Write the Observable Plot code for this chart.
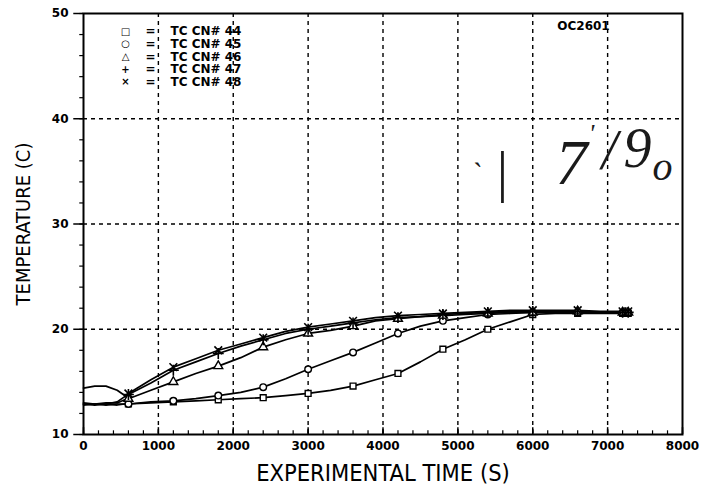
<!DOCTYPE html>
<html>
<head>
<meta charset="utf-8">
<script src="https://cdn.jsdelivr.net/npm/d3@7"></script>
<script src="https://cdn.jsdelivr.net/npm/@observablehq/plot@0.6"></script>
<style>
  html, body { margin: 0; padding: 0; background: #fff; }
  #chart { width: 708px; height: 490px; }
</style>
</head>
<body>
<div id="chart"></div>
<script>
// ---- data ----
const times = [0, 150, 300, 450, 550, 600, 900, 1200, 1500, 1800, 2100, 2400, 2700, 3000, 3300, 3600, 3900, 4200, 4500, 4800, 5100, 5400, 5700, 6000, 6300, 6600, 6900, 7200, 7275];
const tc44 = [12.9, 12.8, 12.9, 12.8, 12.9, 12.9, 13.0, 13.1, 13.2, 13.3, 13.4, 13.5, 13.7, 13.9, 14.2, 14.6, 15.2, 15.8, 16.9, 18.1, 19.0, 20.0, 20.7, 21.4, 21.5, 21.5, 21.5, 21.5, 21.5];
const tc45 = [12.9, 12.9, 12.8, 12.9, 12.9, 12.9, 13.1, 13.2, 13.4, 13.7, 14.0, 14.5, 15.3, 16.2, 17.0, 17.8, 18.7, 19.6, 20.3, 20.8, 21.1, 21.4, 21.5, 21.6, 21.6, 21.6, 21.6, 21.6, 21.6];
const tc46 = [13.0, 12.9, 13.0, 13.0, 13.3, 13.4, 14.2, 15.0, 15.8, 16.5, 17.3, 18.3, 19.0, 19.6, 19.9, 20.3, 20.8, 21.0, 21.2, 21.3, 21.4, 21.5, 21.6, 21.6, 21.6, 21.7, 21.6, 21.6, 21.6];
const tc47 = [12.8, 12.9, 12.9, 13.1, 13.6, 13.8, 14.9, 16.1, 16.9, 17.7, 18.4, 19.0, 19.6, 20.0, 20.3, 20.6, 20.9, 21.1, 21.2, 21.4, 21.5, 21.6, 21.7, 21.7, 21.7, 21.7, 21.6, 21.6, 21.6];
const tc48 = [14.4, 14.6, 14.6, 14.2, 13.7, 13.9, 15.2, 16.4, 17.2, 18.0, 18.6, 19.2, 19.8, 20.2, 20.5, 20.8, 21.1, 21.3, 21.4, 21.5, 21.6, 21.7, 21.8, 21.8, 21.8, 21.8, 21.7, 21.7, 21.7];
const seriesIds = ["44", "45", "46", "47", "48"];
const seriesLabels = ["TC CN# 44", "TC CN# 45", "TC CN# 46", "TC CN# 47", "TC CN# 48"];
const legendGlyphs = ["\u25A1", "\u25CB", "\u25B3", "+", "\u00D7"];
const symbolNames = ["square", "circle", "triangle", "plus", "times"];
const markerTimes = [600, 1200, 1800, 2400, 3000, 3600, 4200, 4800, 5400, 6000, 6600, 7200, 7275];
const xTicks = [0, 1000, 2000, 3000, 4000, 5000, 6000, 7000, 8000];
const yTicks = [10, 20, 30, 40, 50];
const xGrid = [1000, 2000, 3000, 4000, 5000, 6000, 7000];
const yGrid = [20, 30, 40];
const runLabel = "OC2601";
// handwritten note "7'/90" and stray mark, drawn glyph by glyph
const handGlyphs = ["7", "'", "/", "9", "o", "`", "|"];

// ---- build table ----
const values = [tc44, tc45, tc46, tc47, tc48];
const rows = seriesIds.flatMap((id, i) => times.map((t, j) => ({id, t, T: values[i][j]})));
const markers = rows.filter(d => markerTimes.includes(d.t));
const openMarkers = markers.filter(d => ["44", "45", "46"].includes(d.id));
const strokeMarkers = markers.filter(d => ["47", "48"].includes(d.id));

const xMinor = d3.range(0, 8001, 200);
const yMinor = d3.range(10, 51, 2);

const tickFont = "'DejaVu Sans', 'Liberation Sans', sans-serif";
const titleFont = "'Liberation Sans Narrow', 'DejaVu Sans Condensed', 'Liberation Sans', sans-serif";
const handFont = "'Liberation Serif', 'DejaVu Serif', serif";

const legendMarks = seriesLabels.flatMap((lab, i) => {
  const dy = 18 + i * 12.6;
  return [
    Plot.text([legendGlyphs[i]], {frameAnchor: "top-left", dx: 42, dy, fontSize: 10, fontWeight: "bold", fill: "black", lineAnchor: "middle", textAnchor: "middle", fontFamily: tickFont}),
    Plot.text(["="], {frameAnchor: "top-left", dx: 67, dy, fontSize: 12, fontWeight: "bold", fill: "black", lineAnchor: "middle", textAnchor: "middle", fontFamily: tickFont}),
    Plot.text([lab], {frameAnchor: "top-left", dx: 87, dy, fontSize: 12, fontWeight: "bold", fill: "black", lineAnchor: "middle", textAnchor: "start", fontFamily: tickFont, letterSpacing: "0.8px"})
  ];
});

// placement of each handwritten glyph (pixels from the frame's top-left)
const handPlace = [
  {dx: 488, dy: 150, size: 64},
  {dx: 508, dy: 120, size: 26},
  {dx: 526, dy: 138, size: 56},
  {dx: 554, dy: 136, size: 56},
  {dx: 579, dy: 154, size: 40},
  {dx: 392, dy: 160, size: 30},
  {dx: 418, dy: 160, size: 56}
];
const handMarks = handGlyphs.map((g, i) => Plot.text([g], {
  frameAnchor: "top-left", dx: handPlace[i].dx, dy: handPlace[i].dy,
  fontSize: handPlace[i].size, fontStyle: "italic", fill: "#1a1a1a",
  fontFamily: handFont, textAnchor: "middle", lineAnchor: "middle"
}));

const chart = Plot.plot({
  width: 708,
  height: 490,
  marginLeft: 83,
  marginRight: 26,
  marginTop: 13,
  marginBottom: 56,
  style: {background: "white", color: "black", fontFamily: tickFont},
  x: {domain: [0, 8000]},
  y: {domain: [10, 50]},
  symbol: {domain: seriesIds, range: symbolNames},
  marks: [
    // grid
    Plot.ruleX(xGrid, {stroke: "black", strokeWidth: 1.4, strokeDasharray: "4,4"}),
    Plot.ruleY(yGrid, {stroke: "black", strokeWidth: 1.4, strokeDasharray: "4,4"}),
    // minor and major ticks
    Plot.ruleX(xMinor, {y1: 10, y2: 10.35, stroke: "black", strokeWidth: 1.2}),
    Plot.ruleX(xTicks, {y1: 10, y2: 10.65, stroke: "black", strokeWidth: 1.5}),
    Plot.ruleY(yMinor, {x1: -50, x2: 0, stroke: "black", strokeWidth: 1.2}),
    Plot.ruleY(yTicks, {x1: -130, x2: 0, stroke: "black", strokeWidth: 1.5}),
    // axes (labels only)
    Plot.axisX({ticks: xTicks, tickSize: 0, tickPadding: 7, fontSize: 12, fontWeight: "bold", label: null, tickFormat: d => String(d), fontFamily: tickFont}),
    Plot.axisY({ticks: yTicks, tickSize: 0, tickPadding: 15, fontSize: 12, fontWeight: "bold", label: null, tickFormat: d => String(d), fontFamily: tickFont}),
    // curves
    Plot.line(rows, {x: "t", y: "T", z: "id", stroke: "black", strokeWidth: 1.7}),
    Plot.dot(openMarkers, {x: "t", y: "T", symbol: "id", r: 3.3, stroke: "black", fill: "white", strokeWidth: 1.4}),
    Plot.dot(strokeMarkers, {x: "t", y: "T", symbol: "id", r: 3.6, stroke: "black", fill: "none", strokeWidth: 1.6}),
    // frame
    Plot.frame({stroke: "black", strokeWidth: 2}),
    // titles
    Plot.text(["EXPERIMENTAL TIME (S)"], {frameAnchor: "bottom", dy: 39, fontSize: 23.5, fill: "black", fontFamily: titleFont, lineAnchor: "middle", textAnchor: "middle"}),
    Plot.text(["TEMPERATURE (C)"], {frameAnchor: "left", dx: -60, rotate: -90, fontSize: 20, fill: "black", fontFamily: titleFont, lineAnchor: "middle", textAnchor: "middle"}),
    // annotations
    Plot.text([runLabel], {frameAnchor: "top-left", dx: 500, dy: 13, fontSize: 12, fontWeight: "bold", fill: "black", fontFamily: tickFont, lineAnchor: "middle", textAnchor: "middle", letterSpacing: "0.6px"}),
    ...handMarks,
    ...legendMarks
  ]
});
document.getElementById("chart").appendChild(chart);
</script>
</body>
</html>
